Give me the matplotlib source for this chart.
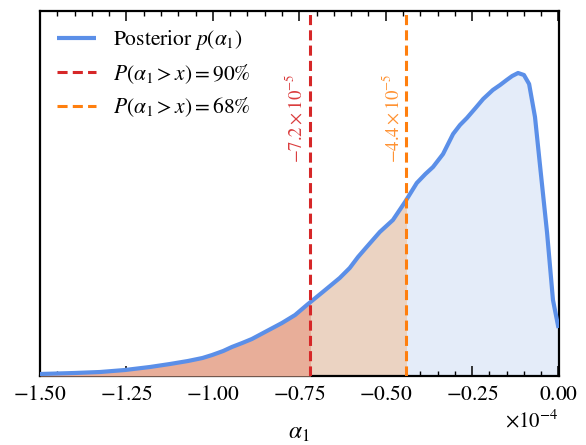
import numpy as np
import matplotlib
matplotlib.use("Agg")
import matplotlib.pyplot as plt
from matplotlib.patches import Rectangle
import matplotlib.transforms as mtransforms
from matplotlib.ticker import MultipleLocator, ScalarFormatter

plt.rcParams['font.family'] = ['STIXGeneral', 'DejaVu Serif']
plt.rcParams['mathtext.fontset'] = 'stix'

# posterior of alpha_1 (x in units of 1e-4, density in arbitrary units)
alpha_x = [-1.500, -1.400, -1.326, -1.254, -1.182, -1.124, -1.072, -1.030, -1.002,
           -0.970, -0.945, -0.915, -0.887, -0.849, -0.800, -0.762, -0.728, -0.682,
           -0.633, -0.604, -0.580, -0.555, -0.517, -0.479, -0.444, -0.410, -0.385,
           -0.363, -0.334, -0.305, -0.285, -0.265, -0.240, -0.218, -0.190, -0.169,
           -0.150, -0.134, -0.117, -0.100, -0.085, -0.068, -0.053, -0.033, -0.016,
           0.000]
density = [0.02, 0.03, 0.04, 0.06, 0.09, 0.12, 0.15, 0.18, 0.21,
           0.25, 0.29, 0.33, 0.37, 0.44, 0.53, 0.61, 0.71, 0.84,
           0.98, 1.08, 1.19, 1.29, 1.44, 1.56, 1.74, 1.93, 2.02,
           2.09, 2.22, 2.42, 2.51, 2.58, 2.68, 2.77, 2.86, 2.91,
           2.96, 3.00, 3.03, 3.01, 2.92, 2.59, 2.09, 1.43, 0.76,
           0.48]

q90 = -0.72   # P(alpha_1 > x) = 90%
q68 = -0.44   # P(alpha_1 > x) = 68%
q90_label = r"$-7.2\times10^{-5}$"
q68_label = r"$-4.4\times10^{-5}$"

SCALE = 1e-4
x = np.array(alpha_x) * SCALE
y = np.array(density)

fig = plt.figure(figsize=(5.86, 4.45), dpi=100)
ax = fig.add_axes([40/586, (445-376)/445, (558.5-40)/586, (376-11)/445])

line_color = '#5b8fe8'
red = '#d62728'
orange = '#ff7f0e'

# fills
f_all = ax.fill_between(x, y, 0, color='#e4ecf9', lw=0, zorder=1)
f_mid = ax.fill_between(x, y, 0, color='#ebd3c2', lw=0, zorder=2)
f_mid.set_clip_path(Rectangle((q90*SCALE, -1), (q68 - q90)*SCALE, 10, transform=ax.transData))
f_left = ax.fill_between(x, y, 0, color='#e8ae99', lw=0, zorder=3)
f_left.set_clip_path(Rectangle((-2*SCALE, -1), (q90 + 2)*SCALE, 10, transform=ax.transData))

ax.plot(x, y, color=line_color, lw=3.0, zorder=5, label=r'Posterior $p(\alpha_1)$',
        solid_capstyle='butt', solid_joinstyle='round')
ax.axvline(q90*SCALE, color=red, ls=(0, (3.3, 1.7)), lw=2.2, zorder=6,
           label=r'$P(\alpha_1>x)=90\%$')
ax.axvline(q68*SCALE, color=orange, ls=(0, (3.3, 1.7)), lw=2.2, zorder=6,
           label=r'$P(\alpha_1>x)=68\%$')

trans = mtransforms.blended_transform_factory(ax.transData, ax.transAxes)
off = mtransforms.offset_copy(trans, fig=fig, x=-4, y=0, units='dots')
ax.text(q90*SCALE, 0.583, q90_label, rotation=90, color=red, alpha=0.9,
        ha='right', va='bottom', fontsize=13.5, transform=off)
ax.text(q68*SCALE, 0.583, q68_label, rotation=90, color=orange, alpha=0.85,
        ha='right', va='bottom', fontsize=13.5, transform=off)

ax.set_xlim(-1.5*SCALE, 0)
ax.set_ylim(0, 3.65)
ax.set_yticks([])

ax.xaxis.set_major_locator(MultipleLocator(0.25*SCALE))
ax.xaxis.set_minor_locator(MultipleLocator(0.05*SCALE))
fmt = ScalarFormatter(useMathText=True)
fmt.set_powerlimits((-3, 3))
ax.xaxis.set_major_formatter(fmt)
ax.tick_params(axis='x', which='both', direction='in', top=True, bottom=True,
               labelsize=15.5, pad=7)
ax.tick_params(axis='x', which='major', length=7, width=1.1)
ax.tick_params(axis='x', which='minor', length=3.5, width=1.0)
ax.xaxis.get_offset_text().set_fontsize(15)
for s in ax.spines.values():
    s.set_linewidth(1.6)

ax.set_xlabel(r'$\alpha_1$', fontsize=17, labelpad=12)

leg = ax.legend(loc='upper left', frameon=False, fontsize=15.5, handlelength=1.8,
                borderaxespad=0.4, labelspacing=0.45, handletextpad=0.8)

fig.savefig('out.png', dpi=100)
